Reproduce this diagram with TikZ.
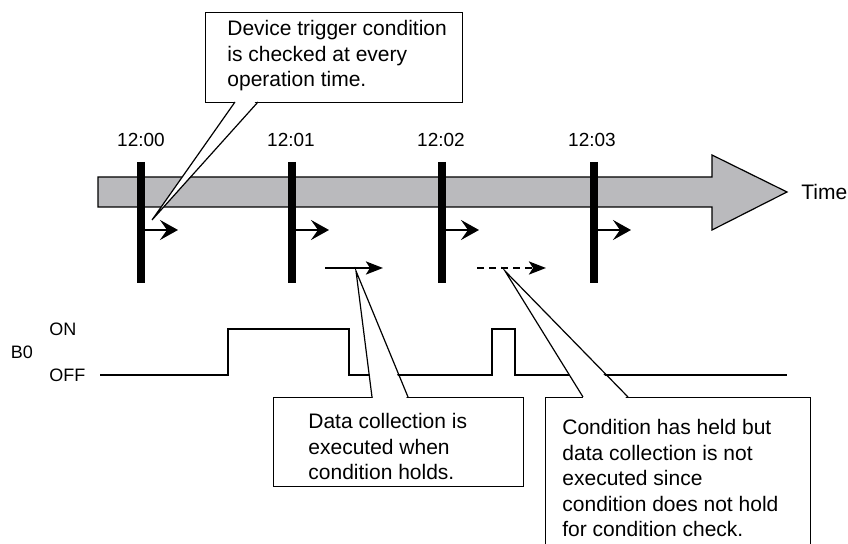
\documentclass[tikz,border=0pt]{standalone}
\usepackage{fontspec}
\setmainfont{Liberation Sans}
\usetikzlibrary{arrows.meta}
\definecolor{timegray}{rgb}{0.73,0.73,0.74}

\begin{document}
\begin{tikzpicture}[x=0.5pt, y=-0.5pt,
      every node/.style={font=\fontsize{9}{12.75}\selectfont, inner sep=0pt},
      hour/.style={font=\fontsize{9.5}{12}\selectfont},
      bar/.style={line width=4pt},
      chk/.style={-{Stealth[length=9pt, width=10pt, inset=3.5pt]}, line width=1.2pt},
      coll/.style={-{Stealth[length=8.5pt, width=6.5pt, inset=2pt]}, line width=1.3pt},
      sig/.style={line width=1.2pt, line join=miter},
      box/.style={draw, fill=white, line width=0.6pt, anchor=north west},
      note/.style={anchor=west, align=left, font=\fontsize{10.5}{12.75}\selectfont}
  ]
    \useasboundingbox (0,0) rectangle (848,544);
    % time axis
    \draw[fill=timegray, line width=0.6pt]
      (98,177) -- (712,177) -- (712,155) -- (787,192) -- (712,230) -- (712,207) -- (98,207) -- cycle;
    \node[anchor=west, font=\fontsize{10.5}{12}\selectfont] (time) at (801,192) {Time};
    \node[hour] (t0) at (141,140) {12:00};
    \node[hour] (t1) at (291,140) {12:01};
    \node[hour] (t2) at (441,140) {12:02};
    \node[hour] (t3) at (592,140) {12:03};
    \draw[bar] (141,162) -- (141,283);
    \draw[bar] (292,162) -- (292,283);
    \draw[bar] (442,162) -- (442,283);
    \draw[bar] (594,162) -- (594,283);
    \draw[chk] (145,230) -- (178,230);
    \draw[chk] (296,230) -- (329,230);
    \draw[chk] (446,230) -- (479,230);
    \draw[chk] (598,230) -- (631,230);
    % data collection
    \draw[coll] (325,268) -- (383,268);
    \draw[coll, dash pattern=on 3.5pt off 2.5pt] (477,268) -- (546,268);
    % B0 signal
    \node (b0) at (22,352) {B0};
    \node[anchor=west] (on) at (49,329) {ON};
    \node[anchor=west] (off) at (49,375) {OFF};
    \draw[sig] (100,375) -- (228,375) -- (228,329) -- (349,329) -- (349,375)
      -- (492,375) -- (492,329) -- (515,329) -- (515,375) -- (787,375);
    % callouts
    \node[box, minimum width=128.5pt, minimum height=45pt] (box1) at (205,12) {};
    \fill[white] (236,100) -- (152,220) -- (257,100) -- cycle;
    \draw[line width=0.6pt] (235,102) -- (152,220) -- (258,102);
    \node[note] (note1) at (227,56) {Device trigger condition\\is checked at every\\operation time.};

    \node[box, minimum width=125pt, minimum height=44.5pt] (box2) at (273,397) {};
    \fill[white] (373,399) -- (356,271) -- (407,399) -- cycle;
    \draw[line width=0.6pt] (372,397) -- (356,271) -- (408,397);
    \node[note] (note2) at (308,447) {Data collection is\\executed when\\condition holds.};

    \node[box, minimum width=132.5pt, minimum height=80pt] (box3) at (545,397) {};
    \fill[white] (584,399) -- (505,271) -- (627,399) -- cycle;
    \draw[line width=0.6pt] (583,397) -- (505,271) -- (628,397);
    \node[note] (note3) at (562,478) {Condition has held but\\data collection is not\\executed since\\condition does not hold\\for condition check.};
  \end{tikzpicture}
\end{document}
